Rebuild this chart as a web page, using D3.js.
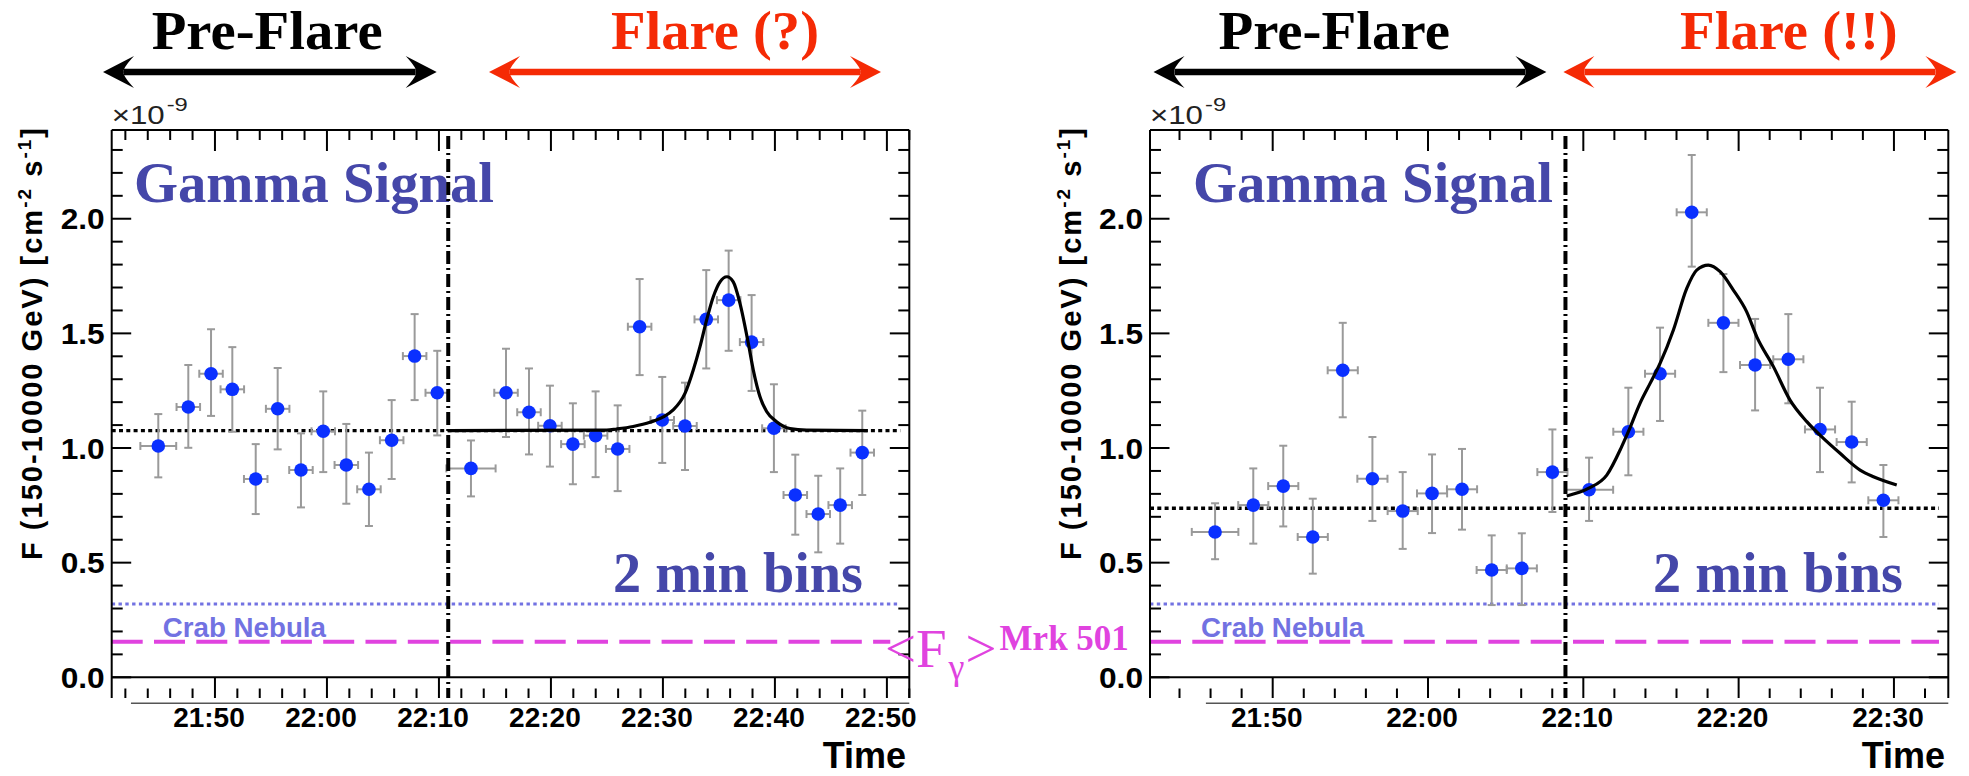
<!DOCTYPE html>
<html>
<head>
<meta charset="utf-8">
<script src="https://cdn.jsdelivr.net/npm/d3@7"></script>
<style>
  html, body { margin: 0; padding: 0; background: #ffffff; }
  svg { display: block; }
</style>
</head>
<body>
<svg id="chart" width="1969" height="776"></svg>
<script>
// ---------------------------------------------------------------
// Mrk 501 light curves, 2-minute bins. Time is in minutes after 21:00 UT,
// flux in units of 1e-9 cm^-2 s^-1 (150-10000 GeV).
// ---------------------------------------------------------------

// Night A (left panel)
const nightATime    = [44.94, 47.62, 49.65, 51.55, 53.64, 55.60, 57.68, 59.67, 61.73, 63.75, 65.78, 67.83, 69.85, 72.86, 75.99, 78.04, 79.91, 81.96, 83.99, 85.96, 87.92, 89.94, 91.97, 93.87, 95.87, 97.92, 99.91, 101.82, 103.87, 105.83, 107.80];
const nightAHalfBin = [1.6, 1.05, 1.05, 1.05, 1.05, 1.05, 1.05, 1.05, 1.05, 1.05, 1.05, 1.05, 1.05, 2.2, 1.05, 1.05, 1.05, 1.05, 1.05, 1.05, 1.05, 1.05, 1.05, 1.05, 1.05, 1.05, 1.05, 1.05, 1.05, 1.05, 1.05];
const nightAFlux    = [1.009, 1.179, 1.324, 1.256, 0.865, 1.171, 0.904, 1.073, 0.926, 0.820, 1.034, 1.401, 1.241, 0.911, 1.241, 1.156, 1.097, 1.017, 1.054, 0.996, 1.529, 1.122, 1.096, 1.561, 1.645, 1.462, 1.086, 0.795, 0.712, 0.751, 0.980];
const nightAFluxHi  = [1.148, 1.362, 1.518, 1.440, 1.017, 1.349, 1.064, 1.247, 1.105, 0.980, 1.209, 1.584, 1.424, 1.033, 1.433, 1.347, 1.272, 1.195, 1.247, 1.186, 1.737, 1.310, 1.285, 1.776, 1.861, 1.667, 1.278, 0.971, 0.879, 0.911, 1.163];
const nightAFluxLo  = [0.872, 1.001, 1.140, 1.071, 0.712, 0.994, 0.741, 0.895, 0.757, 0.660, 0.865, 1.209, 1.055, 0.789, 1.048, 0.972, 0.919, 0.842, 0.873, 0.812, 1.318, 0.935, 0.904, 1.347, 1.424, 1.249, 0.895, 0.622, 0.545, 0.583, 0.795];
const nightABaseline = 1.076;
const nightASplit    = 70.83;
// fitted flare profile (time, flux)
const nightAFitTime = [70.83, 84.98, 85.87, 87.35, 88.84, 90.03, 90.92, 91.97, 92.71, 93.31, 93.90, 94.50, 95.10, 95.72, 96.28, 96.88, 97.62, 98.07, 98.66, 99.26, 100.15, 101.34, 102.83, 108.30];
const nightAFitFlux = [1.076, 1.078, 1.083, 1.094, 1.112, 1.136, 1.166, 1.238, 1.340, 1.442, 1.558, 1.660, 1.725, 1.747, 1.725, 1.631, 1.458, 1.340, 1.225, 1.159, 1.115, 1.085, 1.078, 1.076];

// Night B (right panel)
const nightBTime    = [46.29, 48.75, 50.68, 52.58, 54.51, 56.42, 58.37, 60.26, 62.19, 64.10, 66.04, 68.01, 70.37, 72.90, 74.94, 76.98, 79.02, 81.06, 83.20, 85.24, 87.28, 89.32];
const nightBHalfBin = [1.5, 0.97, 0.97, 0.97, 0.97, 0.97, 0.97, 0.97, 0.97, 0.97, 0.97, 0.97, 1.55, 0.97, 0.97, 0.97, 0.97, 0.97, 0.97, 0.97, 0.97, 0.97];
const nightBFlux    = [0.634, 0.751, 0.834, 0.612, 1.339, 0.866, 0.725, 0.802, 0.820, 0.468, 0.475, 0.895, 0.818, 1.071, 1.324, 2.028, 1.546, 1.362, 1.387, 1.081, 1.026, 0.772];
const nightBFluxHi  = [0.759, 0.911, 1.010, 0.779, 1.546, 1.048, 0.895, 0.972, 0.996, 0.619, 0.628, 1.081, 0.958, 1.263, 1.525, 2.278, 1.759, 1.563, 1.584, 1.263, 1.202, 0.926];
const nightBFluxLo  = [0.515, 0.583, 0.658, 0.452, 1.134, 0.682, 0.560, 0.629, 0.644, 0.315, 0.315, 0.721, 0.682, 0.881, 1.118, 1.791, 1.331, 1.164, 1.195, 0.895, 0.850, 0.612];
const nightBBaseline = 0.737;
const nightBSplit    = 68.85;
const nightBFitTime = [68.93, 70.32, 71.51, 72.47, 72.90, 73.65, 74.30, 74.94, 75.80, 76.66, 77.30, 78.05, 78.81, 79.66, 80.52, 81.17, 82.24, 83.31, 84.39, 85.46, 86.53, 87.82, 88.68, 90.18];
const nightBFitFlux = [0.791, 0.824, 0.882, 1.006, 1.071, 1.195, 1.282, 1.369, 1.515, 1.696, 1.776, 1.798, 1.769, 1.689, 1.594, 1.485, 1.355, 1.209, 1.115, 1.042, 0.977, 0.904, 0.875, 0.839];

// reference levels
const crabFlux = 0.320;
const mrk501MeanFlux = 0.155;

// axis ticks
const yMajorTicks  = [0, 0.5, 1.0, 1.5, 2.0];
const yTickLabels  = ["0.0", "0.5", "1.0", "1.5", "2.0"];
const nightATicks  = [50, 60, 70, 80, 90, 100, 110];
const nightALabels = ["21:50", "22:00", "22:10", "22:20", "22:30", "22:40", "22:50"];
const nightBTicks  = [50, 60, 70, 80, 90];
const nightBLabels = ["21:50", "22:00", "22:10", "22:20", "22:30"];

// ---------------------------------------------------------------
const svg = d3.select("#chart");
const SANS = "'Liberation Sans', Arial, Helvetica, sans-serif";
const SERIF = "'Liberation Serif', 'Times New Roman', serif";
const BLUE_TXT = "#4547a9";
const MAGENTA = "#e043df";
const CRAB_COL = "#7272e2";
const RED = "#f52a05";

const frameTop = 130, yZero = 677.3, frameBottom = 698;
const y = d3.scaleLinear().domain([0, 2.387]).range([yZero, frameTop]);

const panels = [
  {
    left: 111.7, right: 909.3, domain: [40.78, 112.0], axisLineStart: 42.5,
    time: nightATime, half: nightAHalfBin, flux: nightAFlux, hi: nightAFluxHi, lo: nightAFluxLo,
    baseline: nightABaseline, split: nightASplit, fitT: nightAFitTime, fitF: nightAFitFlux,
    ticks: nightATicks, labels: nightALabels, refEnd: 111.2, mrkEnd: 110.3,
    gamma: [134, 494], bins: [613, 863], crab: [162.7, 326], timeEnd: 906, yTitleX: 41.7,
    pre: { text: "Pre-Flare", x: [151.7, 382.7], arrow: [103, 436.7] },
    flare: { text: "Flare (?)", x: [611, 819], arrow: [489, 881] }
  },
  {
    left: 1150, right: 1948.3, domain: [42.1, 93.5], axisLineStart: 45.7,
    time: nightBTime, half: nightBHalfBin, flux: nightBFlux, hi: nightBFluxHi, lo: nightBFluxLo,
    baseline: nightBBaseline, split: nightBSplit, fitT: nightBFitTime, fitF: nightBFitFlux,
    ticks: nightBTicks, labels: nightBLabels, refEnd: 92.9, mrkEnd: 92.9,
    gamma: [1193, 1553], bins: [1653, 1903], crab: [1201, 1364.3], timeEnd: 1945, yTitleX: 1080.5,
    pre: { text: "Pre-Flare", x: [1218.4, 1450], arrow: [1153.5, 1546.4] },
    flare: { text: "Flare (!!)", x: [1680, 1897.7], arrow: [1563.4, 1956.4] }
  }
];

function doubleArrow(g, x0, x1, yy, color) {
  const L = 31, Hh = 16, notch = 21;
  g.append("line").attr("x1", x0 + notch).attr("x2", x1 - notch)
    .attr("y1", yy).attr("y2", yy).attr("stroke", color).attr("stroke-width", 6.5);
  g.append("path")
    .attr("d", `M${x0},${yy} L${x0 + L},${yy - Hh} Q${x0 + notch - 2},${yy - 3} ${x0 + notch},${yy} Q${x0 + notch - 2},${yy + 3} ${x0 + L},${yy + Hh} Z`)
    .attr("fill", color);
  g.append("path")
    .attr("d", `M${x1},${yy} L${x1 - L},${yy - Hh} Q${x1 - notch + 2},${yy - 3} ${x1 - notch},${yy} Q${x1 - notch + 2},${yy + 3} ${x1 - L},${yy + Hh} Z`)
    .attr("fill", color);
}

panels.forEach(p => {
  const x = d3.scaleLinear().domain(p.domain).range([p.left, p.right]);
  const g = svg.append("g");

  // --- header: phase labels with arrows
  const hdr = g.append("g");
  hdr.append("text").text(p.pre.text)
    .attr("x", p.pre.x[0]).attr("y", 48.5)
    .attr("textLength", p.pre.x[1] - p.pre.x[0]).attr("lengthAdjust", "spacingAndGlyphs")
    .attr("font-family", SERIF).attr("font-weight", "bold").attr("font-size", 55).attr("fill", "#000");
  hdr.append("text").text(p.flare.text)
    .attr("x", p.flare.x[0]).attr("y", 48.5)
    .attr("textLength", p.flare.x[1] - p.flare.x[0]).attr("lengthAdjust", "spacingAndGlyphs")
    .attr("font-family", SERIF).attr("font-weight", "bold").attr("font-size", 55).attr("fill", RED);
  doubleArrow(hdr, p.pre.arrow[0], p.pre.arrow[1], 72, "#000");
  doubleArrow(hdr, p.flare.arrow[0], p.flare.arrow[1], 72, RED);

  // --- exponent marker (x10^-9), glyphs widened like the axis font
  const ex = g.append("g").attr("transform", `translate(${p.left},124) scale(1.25,1)`)
    .attr("font-family", SANS).attr("fill", "#222");
  ex.append("text").text("\u00d710").attr("x", 0).attr("y", 0).attr("font-size", 25);
  ex.append("text").text("-9").attr("x", 44).attr("y", -13).attr("font-size", 19);

  // --- y-axis title
  const yt = g.append("text")
    .attr("transform", `translate(${p.yTitleX},${128}) rotate(-90)`)
    .attr("text-anchor", "end")
    .attr("font-family", SANS).attr("font-weight", "bold").attr("font-size", 29).attr("fill", "#000")
    .attr("textLength", 432).attr("lengthAdjust", "spacing");
  yt.append("tspan").text("F (150-10000 GeV)  [cm");
  yt.append("tspan").text("-2").attr("font-size", 19).attr("dy", -11);
  yt.append("tspan").text(" s").attr("dy", 11);
  yt.append("tspan").text("-1").attr("font-size", 19).attr("dy", -11);
  yt.append("tspan").text("]").attr("dy", 11);

  // --- in-frame labels
  g.append("text").text("Gamma Signal")
    .attr("x", p.gamma[0]).attr("y", 201.7)
    .attr("textLength", p.gamma[1] - p.gamma[0]).attr("lengthAdjust", "spacingAndGlyphs")
    .attr("font-family", SERIF).attr("font-weight", "bold").attr("font-size", 56).attr("fill", BLUE_TXT);
  g.append("text").text("2 min bins")
    .attr("x", p.bins[0]).attr("y", 591.7)
    .attr("textLength", p.bins[1] - p.bins[0]).attr("lengthAdjust", "spacingAndGlyphs")
    .attr("font-family", SERIF).attr("font-weight", "bold").attr("font-size", 57).attr("fill", BLUE_TXT);
  g.append("text").text("Crab Nebula")
    .attr("x", p.crab[0]).attr("y", 637.3)
    .attr("textLength", p.crab[1] - p.crab[0]).attr("lengthAdjust", "spacingAndGlyphs")
    .attr("font-family", SANS).attr("font-weight", "bold").attr("font-size", 27).attr("fill", CRAB_COL);

  // --- reference levels
  g.append("line")
    .attr("x1", x(p.domain[0])).attr("x2", x(p.refEnd))
    .attr("y1", y(crabFlux)).attr("y2", y(crabFlux))
    .attr("stroke", CRAB_COL).attr("stroke-width", 3).attr("stroke-dasharray", "3.4,3.4");
  g.append("line")
    .attr("x1", x(p.domain[0])).attr("x2", x(p.mrkEnd))
    .attr("y1", y(mrk501MeanFlux)).attr("y2", y(mrk501MeanFlux))
    .attr("stroke", MAGENTA).attr("stroke-width", 4).attr("stroke-dasharray", "31,11.3");
  g.append("line")
    .attr("x1", x(p.domain[0])).attr("x2", x(p.refEnd))
    .attr("y1", y(p.baseline)).attr("y2", y(p.baseline))
    .attr("stroke", "#000").attr("stroke-width", 3.4).attr("stroke-dasharray", "4,3.3");

  // --- error bars
  const eb = g.append("g").attr("stroke", "#9a9a9a").attr("stroke-width", 2).attr("fill", "none");
  p.time.forEach((t, i) => {
    const cx = x(t), cy = y(p.flux[i]);
    const yh = y(p.hi[i]), yl = y(p.lo[i]);
    const xa = x(t - p.half[i]), xb = x(t + p.half[i]);
    eb.append("line").attr("x1", cx).attr("x2", cx).attr("y1", yh).attr("y2", yl);
    eb.append("line").attr("x1", cx - 4).attr("x2", cx + 4).attr("y1", yh).attr("y2", yh);
    eb.append("line").attr("x1", cx - 4).attr("x2", cx + 4).attr("y1", yl).attr("y2", yl);
    eb.append("line").attr("x1", xa).attr("x2", xb).attr("y1", cy).attr("y2", cy);
    eb.append("line").attr("x1", xa).attr("x2", xa).attr("y1", cy - 4).attr("y2", cy + 4);
    eb.append("line").attr("x1", xb).attr("x2", xb).attr("y1", cy - 4).attr("y2", cy + 4);
  });

  // --- markers
  g.append("g").selectAll("circle").data(p.time).join("circle")
    .attr("cx", d => x(d)).attr("cy", (d, i) => y(p.flux[i])).attr("r", 6.8)
    .attr("fill", "#0a30ff");

  // --- fit curve
  const fitLine = d3.line().x(d => x(d[0])).y(d => y(d[1])).curve(d3.curveMonotoneX);
  g.append("path").datum(p.fitT.map((t, i) => [t, p.fitF[i]]))
    .attr("d", fitLine).attr("fill", "none").attr("stroke", "#000").attr("stroke-width", 3.2);

  // --- split marker (dash-dot)
  g.append("line")
    .attr("x1", x(p.split)).attr("x2", x(p.split))
    .attr("y1", frameTop + 6).attr("y2", frameBottom)
    .attr("stroke", "#000").attr("stroke-width", 4).attr("stroke-dasharray", "13,4,2,4");

  // --- frame & axes
  const ax = g.append("g").attr("stroke", "#000").attr("stroke-width", 2).attr("fill", "none");
  ax.append("line").attr("x1", p.left).attr("x2", p.left).attr("y1", frameTop).attr("y2", frameBottom);
  ax.append("line").attr("x1", p.right).attr("x2", p.right).attr("y1", frameTop).attr("y2", frameBottom);
  ax.append("line").attr("x1", p.left).attr("x2", p.right).attr("y1", frameTop).attr("y2", frameTop);
  ax.append("line").attr("x1", p.left).attr("x2", p.right).attr("y1", yZero).attr("y2", yZero);
  g.append("line").attr("x1", x(p.axisLineStart)).attr("x2", p.right)
    .attr("y1", 703.3).attr("y2", 703.3).attr("stroke", "#555").attr("stroke-width", 1.6);

  // time ticks: every 2 min, long every 10 min
  const minor = d3.range(Math.ceil(p.domain[0] / 2) * 2, p.domain[1] + 0.001, 2).filter(v => v % 10 !== 0);
  const major = d3.range(Math.ceil(p.domain[0] / 10) * 10, p.domain[1] + 0.001, 10);
  minor.forEach(t => {
    ax.append("line").attr("x1", x(t)).attr("x2", x(t)).attr("y1", frameBottom).attr("y2", frameBottom - 9.5);
    ax.append("line").attr("x1", x(t)).attr("x2", x(t)).attr("y1", frameTop).attr("y2", frameTop + 10);
  });
  major.forEach(t => {
    ax.append("line").attr("x1", x(t)).attr("x2", x(t)).attr("y1", frameBottom).attr("y2", yZero);
    ax.append("line").attr("x1", x(t)).attr("x2", x(t)).attr("y1", frameTop).attr("y2", frameTop + 21);
  });

  // flux ticks: every 0.1, long every 0.5
  d3.range(0, 2.35, 0.1).forEach(v => {
    const isMajor = Math.abs(v * 2 - Math.round(v * 2)) < 1e-6;
    const len = isMajor ? 19.5 : 11;
    ax.append("line").attr("x1", p.left).attr("x2", p.left + len).attr("y1", y(v)).attr("y2", y(v));
    ax.append("line").attr("x1", p.right).attr("x2", p.right - len).attr("y1", y(v)).attr("y2", y(v));
  });

  // tick labels
  g.append("g").selectAll("text").data(yMajorTicks).join("text")
    .attr("x", p.left - 51).attr("y", d => y(d) + 10.5)
    .attr("textLength", 44).attr("lengthAdjust", "spacingAndGlyphs")
    .attr("font-family", SANS).attr("font-weight", "bold").attr("font-size", 29.5).attr("fill", "#000")
    .text((d, i) => yTickLabels[i]);
  g.append("g").selectAll("text").data(p.ticks).join("text")
    .attr("x", d => x(d) - 6).attr("y", 726.7)
    .attr("text-anchor", "middle")
    .attr("font-family", SANS).attr("font-weight", "bold").attr("font-size", 28).attr("fill", "#000")
    .text((d, i) => p.labels[i]);
  g.append("text").text("Time")
    .attr("x", p.timeEnd).attr("y", 768).attr("text-anchor", "end")
    .attr("font-family", SANS).attr("font-weight", "bold").attr("font-size", 36).attr("fill", "#000");
});

// --- mean Mrk 501 flux label between the panels
const mk = svg.append("text").attr("x", 885).attr("y", 666.7)
  .attr("font-family", SERIF).attr("fill", MAGENTA).attr("font-size", 55);
mk.append("tspan").text("<F");
mk.append("tspan").text("\u03b3").attr("font-size", 36).attr("dy", 12).attr("dx", 2);
mk.append("tspan").text(">").attr("dy", -12).attr("dx", 1);
mk.append("tspan").text("Mrk 501").attr("font-size", 35).attr("font-weight", "bold").attr("dy", -16.7).attr("dx", 3);
</script>
</body>
</html>
